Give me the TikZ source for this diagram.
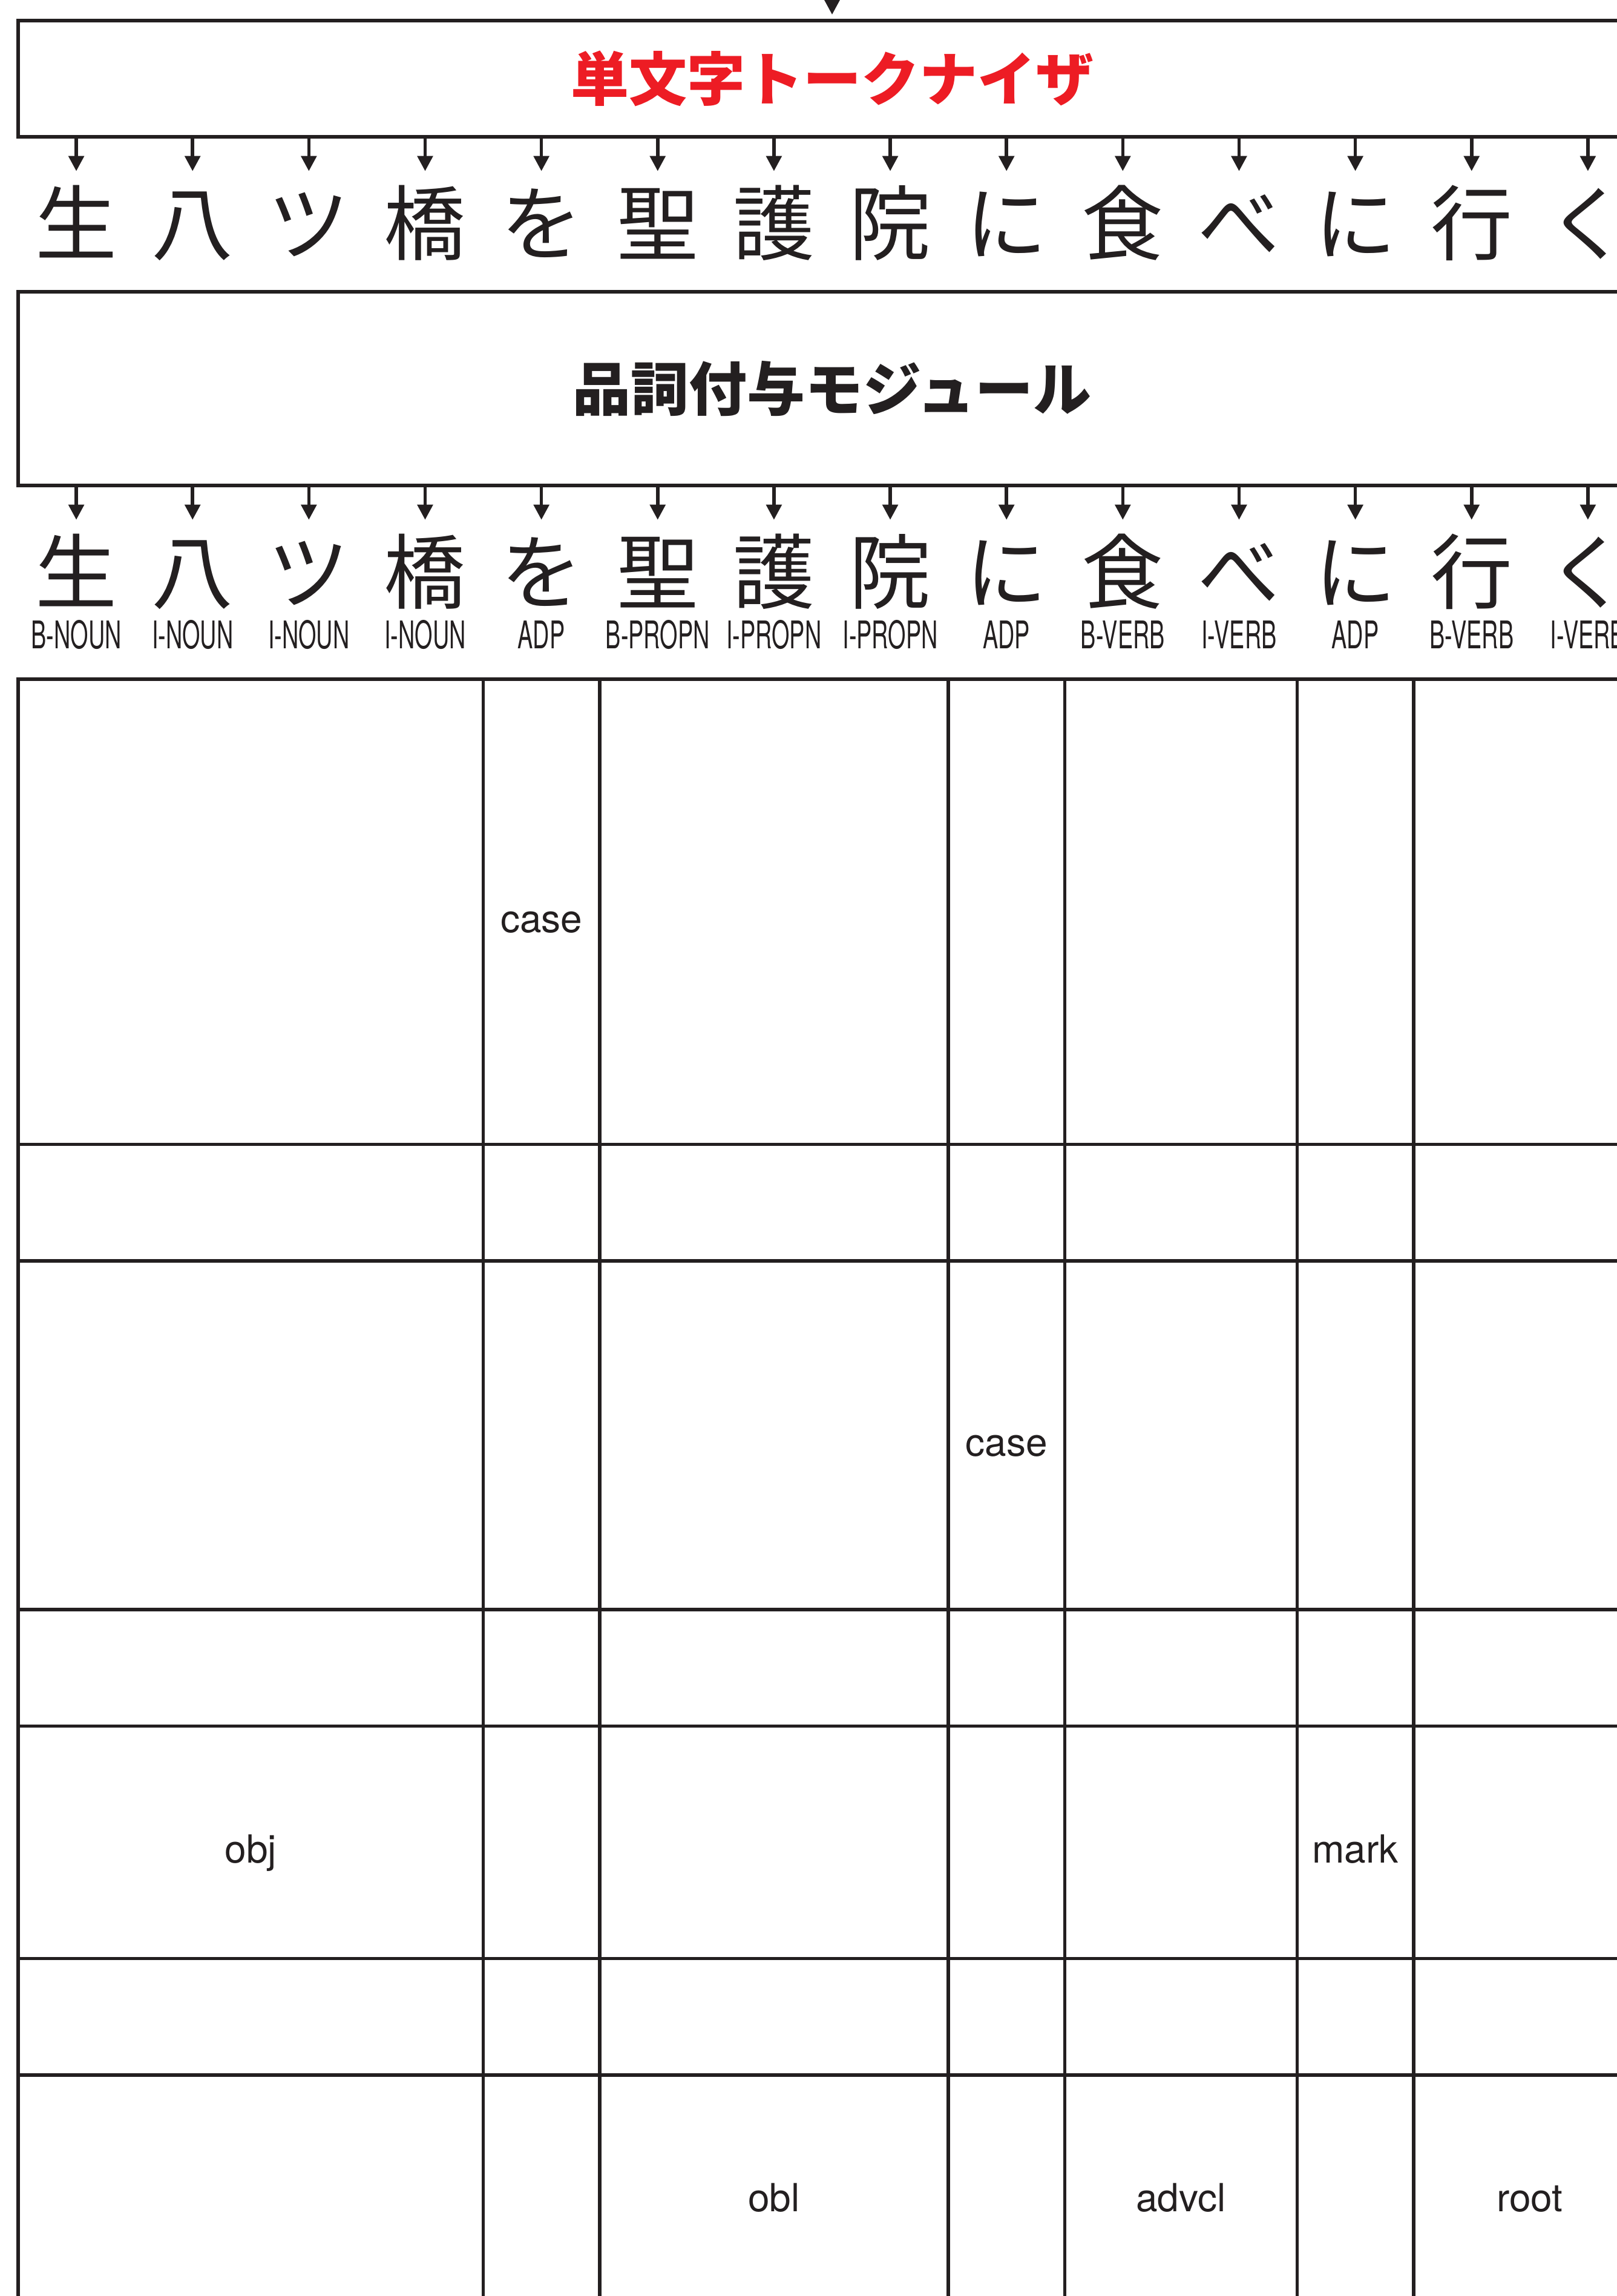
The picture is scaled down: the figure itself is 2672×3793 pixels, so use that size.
\documentclass[tikz,border=0pt]{standalone}
\usepackage{fontspec}
\usepackage{graphicx}
\setmainfont{TeX Gyre Heros}
\newfontfamily\cjk{Noto Sans CJK JP}
\usetikzlibrary{arrows.meta}
\definecolor{ink}{RGB}{35,31,32}
\definecolor{tred}{RGB}{237,28,36}
\tikzset{
  rule/.style={draw=ink, line width=1.4pt},
  arr/.style={draw=ink, line width=1.4pt, -{Triangle[length=6.25pt,width=6.25pt]}},
  stagebox/.style={draw=ink, line width=1.4pt, minimum width=672.5pt, inner sep=0pt,
     text height=21.1pt, text depth=2.9pt, font=\cjk\bfseries\fontsize{24}{26}\selectfont},
  tok/.style={font=\cjk\fontsize{33.75}{36}\selectfont, text=ink, text height=29.7pt,
     text depth=4.05pt, inner xsep=0pt, inner ysep=4.25pt},
  poslab/.style={font=\fontsize{15.75}{18}\selectfont, text=ink, anchor=base, inner sep=0pt},
  deplab/.style={font=\fontsize{16}{18}\selectfont, text=ink, anchor=base, inner sep=0pt}
}
\begin{document}
\begin{tikzpicture}[x=0.25pt,y=-0.25pt]
\path[use as bounding box, fill=white] (0,0) rectangle (2672,3793);

% stage boxes
\node[stagebox, minimum height=48pt, text=tred] (box1) at (1375,130) {単文字トークナイザ};
\node[stagebox, minimum height=80pt, text=ink] (box2) at (1375,642) {品詞付与モジュール};
\coordinate (topin) at (1375,-60);
\draw[arr, shorten >=1.75pt] (topin) -- (box1.north);

% tokens and arrows
\foreach \c [count=\i from 0] in {生,八,ツ,橋,を,聖,護,院,に,食,べ,に,行,く} {
  \pgfmathsetmacro\xx{126.07+192.14*\i}
  \node[tok] (ta\i) at (\xx,368) {\c};
  \draw[arr] (box1.south -| ta\i) -- (ta\i.north);
  \node[tok] (tb\i) at (\xx,944) {\c};
  \draw[arr] (box2.south -| tb\i) -- (tb\i.north);
}
\foreach \l [count=\i from 0] in {B-NOUN,I-NOUN,I-NOUN,I-NOUN,ADP,B-PROPN,I-PROPN,I-PROPN,ADP,B-VERB,I-VERB,ADP,B-VERB,I-VERB} {
  \pgfmathsetmacro\xx{126.07+192.14*\i}
  \node[poslab] (pl\i) at (\xx,1071) {\scalebox{0.6}[1]{\l}};
}

% dependency grid
\draw[rule] (30,1122) rectangle (2720,3812);
\foreach \y in {1890.6,2082.7,2659.1,2851.3,3235.5,3427.7}
  \draw[rule] (30,\y) -- (2720,\y);
\foreach \x in {798.6,990.7,1567.1,1759.3,2143.5,2335.7}
  \draw[rule] (\x,1122) -- (\x,3812);

\node[deplab] (d1) at (894.6,1540) {case};
\node[deplab] (d2) at (1663.2,2405) {case};
\node[deplab] (d3) at (414.3,3077) {obj};
\node[deplab] (d4) at (2239.6,3077) {mark};
\node[deplab] (d5) at (1278.9,3653) {obl};
\node[deplab] (d6) at (1951.4,3653) {advcl};
\node[deplab] (d7) at (2527.9,3653) {root};
\end{tikzpicture}
\end{document}
